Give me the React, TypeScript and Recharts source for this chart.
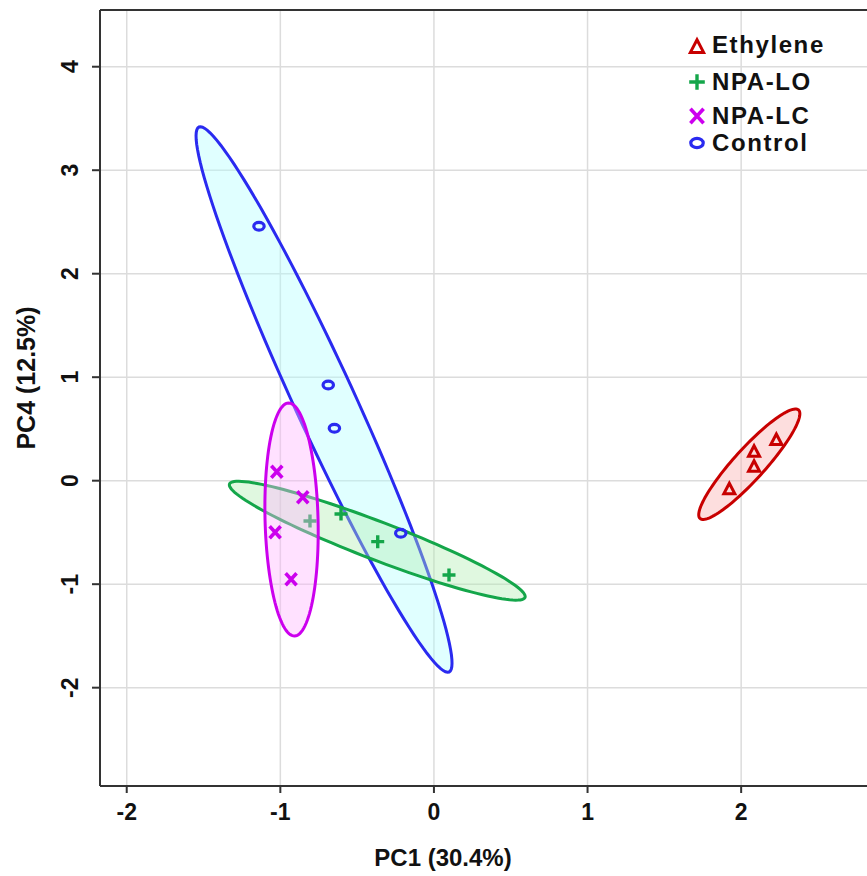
import React from "react";
import { ScatterChart, Scatter, XAxis, YAxis, CartesianGrid, ReferenceLine } from "recharts";

const FONT = '"Liberation Sans", Arial, Helvetica, sans-serif';

// axes
const xTicks = [-2, -1, 0, 1, 2];
const yTicks = [-2, -1, 0, 1, 2, 3, 4];
const xDomain = [-2.174, 2.969];
const yDomain = [-2.95, 4.548];

// samples (PC1, PC4)
const ethylenePts = [
  { x: 1.923, y: -0.083 },
  { x: 2.084, y: 0.135 },
  { x: 2.084, y: 0.28 },
  { x: 2.229, y: 0.393 },
];
const npaLoPts = [
  { x: -0.807, y: -0.389 },
  { x: -0.605, y: -0.322 },
  { x: -0.366, y: -0.589 },
  { x: 0.098, y: -0.911 },
];
const npaLcPts = [
  { x: -1.023, y: 0.087 },
  { x: -0.854, y: -0.16 },
  { x: -1.034, y: -0.499 },
  { x: -0.93, y: -0.953 },
];
const controlPts = [
  { x: -1.139, y: 2.459 },
  { x: -0.688, y: 0.925 },
  { x: -0.648, y: 0.506 },
  { x: -0.216, y: -0.508 },
];

// ellipses: centre, then two conjugate semi-axes (all in data units)
const ethyleneEll = [2.053, 0.159, 0.3206, 0.5242, 0.0747, -0.1007];
const npaLoEll = [-0.369, -0.58, 0.962, -0.548, 0.0445, 0.172];
const npaLcEll = [-0.927, -0.375, 0.0195, -1.1256, 0.1725, 0.0066];
const controlEll = [-0.7155, 0.7845, 0.814, -2.633, 0.178, 0.121];

const legendItems = ["Ethylene", "NPA-LO", "NPA-LC", "Control"];

const RED = "#c80000";
const GREEN = "#14a64a";
const MAGENTA = "#cc00ee";
const BLUE = "#2a2af0";

function ellipsePoints(e: number[]) {
  const [cx, cy, ax, ay, bx, by] = e;
  const out: { x: number; y: number }[] = [];
  for (let i = 0; i < 120; i++) {
    const t = (i / 120) * Math.PI * 2;
    out.push({ x: cx + ax * Math.cos(t) + bx * Math.sin(t), y: cy + ay * Math.cos(t) + by * Math.sin(t) });
  }
  return out;
}

const ellipseLine = (fill: string, stroke: string) => (p: any) => {
  const pts = p.points || [];
  const d = pts.map((q: any, i: number) => `${i ? "L" : "M"}${q.x},${q.y}`).join("") + "Z";
  return <path d={d} fill={fill} fillOpacity={0.4} stroke={stroke} strokeWidth={3} />;
};

function Marker({ kind, cx, cy, s = 1 }: { kind: string; cx: number; cy: number; s?: number }) {
  if (kind === "tri")
    return (
      <path
        d={`M${cx},${cy - 6 * s}L${cx + 5.5 * s},${cy + 4.5 * s}L${cx - 5.5 * s},${cy + 4.5 * s}Z`}
        fill="none"
        stroke={RED}
        strokeWidth={3}
      />
    );
  if (kind === "plus")
    return (
      <path
        d={`M${cx - 6.5 * s},${cy}H${cx + 6.5 * s}M${cx},${cy - 6.5 * s}V${cy + 6.5 * s}`}
        stroke={GREEN}
        strokeWidth={3.4}
      />
    );
  if (kind === "x")
    return (
      <path
        d={`M${cx - 5.5 * s},${cy - 6 * s}L${cx + 5.5 * s},${cy + 6 * s}M${cx + 5.5 * s},${cy - 6 * s}L${cx - 5.5 * s},${cy + 6 * s}`}
        stroke={MAGENTA}
        strokeWidth={3.6}
      />
    );
  return <ellipse cx={cx} cy={cy} rx={5.2 * s} ry={3.9 * s} fill="none" stroke={BLUE} strokeWidth={3.2} />;
}

const legendKinds = ["tri", "plus", "x", "circ"];
const legendTops = [45, 82, 116, 143];

function XTick(props: any) {
  const { x, y, payload } = props;
  return (
    <text x={x} y={y + 25} textAnchor="middle" fontSize={23} fontWeight="bold" fontFamily={FONT} fill="#111">
      {payload.value}
    </text>
  );
}

function YTick(props: any) {
  const { x, y, payload } = props;
  const bx = x - 12;
  return (
    <text
      x={bx}
      y={y}
      transform={`rotate(-90 ${bx} ${y})`}
      textAnchor="middle"
      fontSize={23}
      fontWeight="bold"
      fontFamily={FONT}
      fill="#111"
    >
      {payload.value}
    </text>
  );
}

const none = () => <g />;

export default function App() {
  return (
    <div style={{ position: "absolute", left: 0, top: 0, width: 867, height: 876, overflow: "hidden", background: "#fff" }}>
      <ScatterChart width={900} height={876} margin={{ top: 10, right: 10, left: 0, bottom: 0 }}>
        <CartesianGrid stroke="#dcdcdc" strokeWidth={1.5} />
        <XAxis
          type="number"
          dataKey="x"
          domain={xDomain}
          ticks={xTicks}
          allowDataOverflow
          height={90}
          tickSize={7}
          tickMargin={2}
          tick={<XTick />}
          axisLine={{ stroke: "#333", strokeWidth: 2 }}
          tickLine={{ stroke: "#333", strokeWidth: 2 }}
          label={{
            content: () => (
              <text x={443} y={866} textAnchor="middle" fontSize={24} fontWeight="bold" fontFamily={FONT} fill="#111">
                PC1 (30.4%)
              </text>
            ),
          }}
        />
        <YAxis
          type="number"
          dataKey="y"
          domain={yDomain}
          ticks={yTicks}
          allowDataOverflow
          width={100}
          tickSize={8}
          tickMargin={2}
          tick={<YTick />}
          axisLine={{ stroke: "#333", strokeWidth: 2 }}
          tickLine={{ stroke: "#333", strokeWidth: 2 }}
          label={{
            content: () => (
              <text
                x={35}
                y={378}
                transform="rotate(-90 35 378)"
                textAnchor="middle"
                fontSize={25}
                fontWeight="bold"
                fontFamily={FONT}
                fill="#111"
              >
                PC4 (12.5%)
              </text>
            ),
          }}
        />
        <ReferenceLine y={yDomain[1]} stroke="#333" strokeWidth={2} ifOverflow="visible" />

        <Scatter data={ellipsePoints(controlEll)} line={ellipseLine("#b2ffff", BLUE)} lineType="joint" shape={none} legendType="none" isAnimationActive={false} />
        <Scatter data={ellipsePoints(npaLoEll)} line={ellipseLine("#b2eeb2", GREEN)} lineType="joint" shape={none} legendType="none" isAnimationActive={false} />
        <Scatter data={controlPts} shape={(p: any) => <Marker kind="circ" cx={p.cx} cy={p.cy} />} isAnimationActive={false} />
        <Scatter data={npaLoPts} shape={(p: any) => <Marker kind="plus" cx={p.cx} cy={p.cy} />} isAnimationActive={false} />
        <Scatter data={ellipsePoints(npaLcEll)} line={ellipseLine("#ffb4ff", MAGENTA)} lineType="joint" shape={none} legendType="none" isAnimationActive={false} />
        <Scatter data={npaLcPts} shape={(p: any) => <Marker kind="x" cx={p.cx} cy={p.cy} />} isAnimationActive={false} />
        <Scatter data={ellipsePoints(ethyleneEll)} line={ellipseLine("#faacac", RED)} lineType="joint" shape={none} legendType="none" isAnimationActive={false} />
        <Scatter data={ethylenePts} shape={(p: any) => <Marker kind="tri" cx={p.cx} cy={p.cy} />} isAnimationActive={false} />
      </ScatterChart>

      {legendItems.map((name, i) => (
        <div
          key={name}
          style={{
            position: "absolute",
            left: 686,
            top: legendTops[i] - 15,
            height: 30,
            display: "flex",
            alignItems: "center",
            fontFamily: FONT,
            fontWeight: "bold",
            fontSize: 24,
            letterSpacing: 1.6,
            color: "#111",
          }}
        >
          <svg width={24} height={30} style={{ marginRight: 2 }}>
            <Marker kind={legendKinds[i]} cx={11} cy={legendKinds[i] === "tri" ? 17 : 15} s={1.2} />
          </svg>
          {name}
        </div>
      ))}
    </div>
  );
}
